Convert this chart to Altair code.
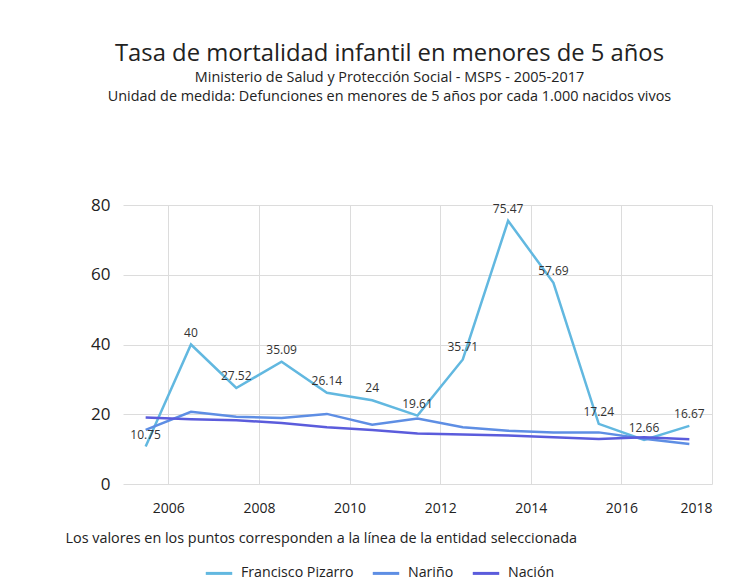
import altair as alt
import pandas as pd

years = list(range(2005, 2018))
pizarro = [10.75, 40, 27.52, 35.09, 26.14, 24, 19.61, 35.71, 75.47, 57.69, 17.24, 12.66, 16.67]
narino = [15.5, 20.7, 19.3, 18.9, 20.1, 17.0, 18.8, 16.3, 15.3, 14.8, 14.8, 13.0, 11.5]
nacion = [19.1, 18.6, 18.3, 17.5, 16.3, 15.5, 14.5, 14.2, 13.9, 13.4, 12.9, 13.4, 12.8]
series = ["Francisco Pizarro", "Nariño", "Nación"]
colors = ["#62B8E0", "#5E8EE4", "#5B5CDC"]
x_ticks = [2006, 2008, 2010, 2012, 2014, 2016, 2018]
y_ticks = [0, 20, 40, 60, 80]

df = pd.DataFrame({
    "year": years * 3,
    "valor": pizarro + narino + nacion,
    "serie": [series[0]] * 13 + [series[1]] * 13 + [series[2]] * 13,
})

FONT = "Open Sans"
note = "Los valores en los puntos corresponden a la línea de la entidad seleccionada"

base = alt.Chart(df).transform_calculate(pos="datum.year + 0.5")

x = alt.X("pos:Q",
          scale=alt.Scale(domain=[2005, 2018], nice=False, zero=False),
          axis=alt.Axis(values=x_ticks, format="d", grid=True, domain=False, ticks=False,
                        labelFontSize=14, labelPadding=17, labelColor="#222",
                        gridColor="#DCDCDC", title=note, titleX=-58, titleY=54,
                        titleAlign="left", titleBaseline="middle", titleFontSize=14.4,
                        titleFontWeight="normal", titleColor="#222"))
y = alt.Y("valor:Q",
          scale=alt.Scale(domain=[0, 80], nice=False),
          axis=alt.Axis(values=y_ticks, domain=False, ticks=False, labelFontSize=17,
                        labelPadding=13, labelColor="#222", gridColor="#DCDCDC", title=None))

color = alt.Color("serie:N",
                  scale=alt.Scale(domain=series, range=colors),
                  sort=series,
                  legend=alt.Legend(orient="none", legendX=81, legendY=353,
                                    direction="horizontal", title=None,
                                    symbolType="stroke", symbolStrokeWidth=3,
                                    symbolSize=700, labelFontSize=14.2, labelColor="#222",
                                    columnPadding=12, labelOffset=7))

lines = base.mark_line(strokeWidth=2.5).encode(x=x, y=y, color=color)

labels = base.transform_filter(alt.datum.serie == "Francisco Pizarro").mark_text(
    dy=-12, fontSize=12, color="#333", font=FONT
).encode(x=x, y=y, text=alt.Text("valor:Q", format="~g"))

chart = alt.layer(lines, labels).properties(
    width=589, height=279,
    autosize=alt.AutoSizeParams(type="none"),
    padding={"left": 115, "top": 197, "right": 10, "bottom": 100},
    title=alt.TitleParams(
        text="Tasa de mortalidad infantil en menores de 5 años",
        subtitle=["Ministerio de Salud y Protección Social - MSPS - 2005-2017",
                  "Unidad de medida: Defunciones en menores de 5 años por cada 1.000 nacidos vivos"],
        fontSize=23.8, subtitleFontSize=14.4, anchor="middle", dx=-28, offset=93,
        color="#222", subtitleColor="#222", font=FONT, subtitleFont=FONT,
        fontWeight="normal", subtitlePadding=5, subtitleLineHeight=19),
).configure(font=FONT).configure_view(stroke=None)

chart.save("out.html", embed_options={"renderer": "svg", "actions": False})
